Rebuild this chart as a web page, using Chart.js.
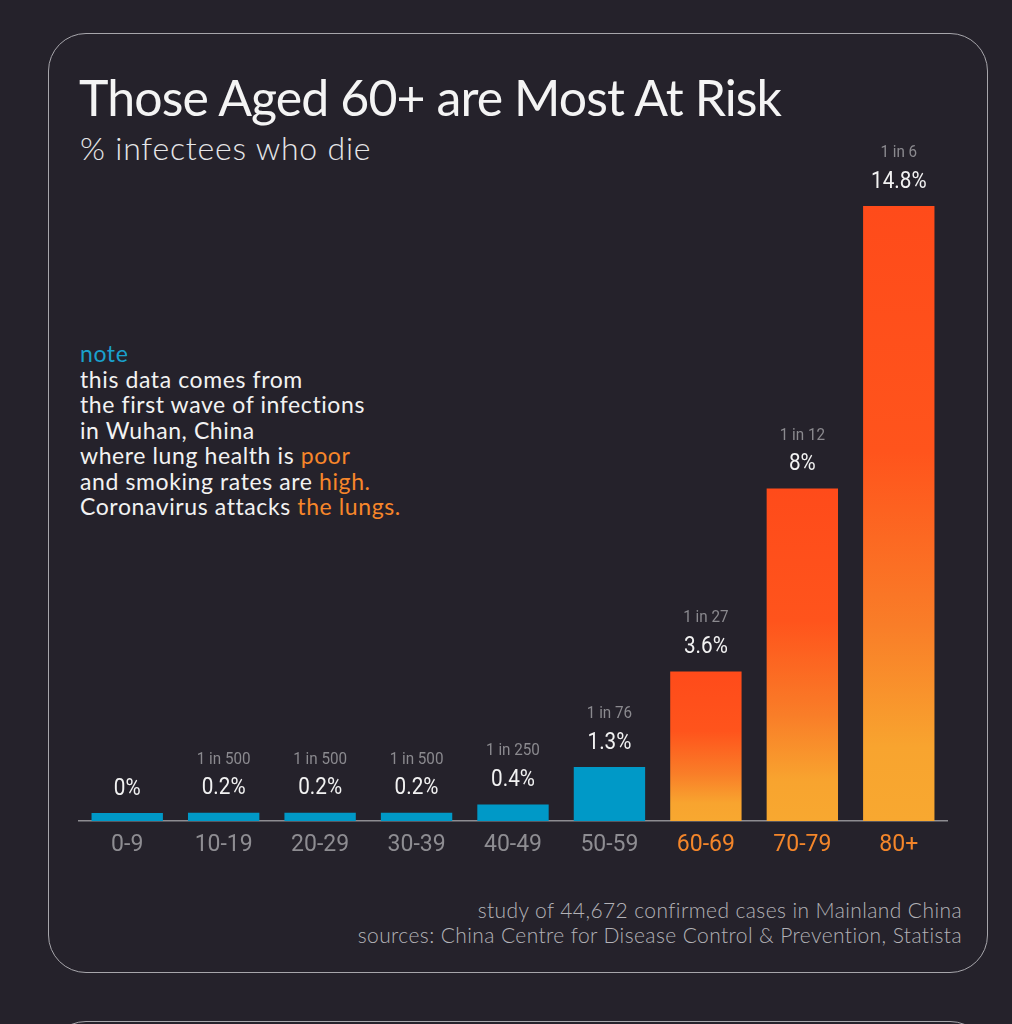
<!DOCTYPE html>
<html>
<head>
<meta charset="utf-8">
<script src="https://cdn.jsdelivr.net/npm/chart.js@4.4.0/dist/chart.umd.min.js"></script>
<style>
  html, body { margin:0; padding:0; }
  body { width:1012px; height:1024px; overflow:hidden; position:relative; background:#25222b; font-family: Lato, "Open Sans", sans-serif; }
  .box { position:absolute; left:48px; width:940px; border:1.5px solid #a7a6ab; border-radius:38px; box-sizing:border-box; }
  #title { position:absolute; left:79px; top:72px; font-size:50px; line-height:50px; color:#f4f4f4; font-weight:400; letter-spacing:-0.9px; white-space:nowrap; }
  #subtitle { position:absolute; left:80px; top:132px; font-size:32px; line-height:32px; color:#e6e6e8; font-weight:300; letter-spacing:0.8px; white-space:nowrap; }
  #note { position:absolute; left:80px; top:341px; font-size:23px; line-height:25.5px; color:#f2f2f2; letter-spacing:0.6px; white-space:nowrap; }
  #note .n { color:#1aa0cc; }
  #note .o { color:#f7862a; }
  #footer { position:absolute; right:50px; top:898px; font-size:21px; line-height:24.5px; color:#b3b2b7; font-weight:300; text-align:right; white-space:nowrap; letter-spacing:0.4px; }
  #wrap { position:absolute; left:0; top:0; width:1012px; height:1024px; }
</style>
</head>
<body>
<div class="box" style="top:33px;height:940px;"></div>
<div class="box" style="top:1021px;height:200px;"></div>
<div id="title">Those Aged 60+ are Most At Risk</div>
<div id="subtitle">% infectees who die</div>
<div id="note"><span class="n">note</span><br>this data comes from<br>the first wave of infections<br>in Wuhan, China<br>where lung health is <span class="o">poor</span><br>and smoking rates are <span class="o">high.</span><br>Coronavirus attacks <span class="o">the lungs.</span></div>
<div id="footer">study of 44,672 confirmed cases in Mainland China<br>sources: China Centre for Disease Control &amp; Prevention, Statista</div>
<div id="wrap"><canvas id="c"></canvas></div>
<script>
const categories = ['0-9','10-19','20-29','30-39','40-49','50-59','60-69','70-79','80+'];
const deathRates = [0, 0.2, 0.2, 0.2, 0.4, 1.3, 3.6, 8, 14.8];
const valueLabels = ['0%','0.2%','0.2%','0.2%','0.4%','1.3%','3.6%','8%','14.8%'];
const oddsLabels = ['','1 in 500','1 in 500','1 in 500','1 in 250','1 in 76','1 in 27','1 in 12','1 in 6'];
const highRisk = [false,false,false,false,false,false,true,true,true];

function barFill(context) {
  const i = context.dataIndex;
  if (!highRisk[i]) return '#0099c7';
  const chart = context.chart;
  const { ctx, chartArea, scales } = chart;
  if (!chartArea || !scales.y) return '#ff5a1e';
  const top = scales.y.getPixelForValue(deathRates[i]);
  const bottom = scales.y.getPixelForValue(0);
  const g = ctx.createLinearGradient(0, top, 0, bottom);
  g.addColorStop(0, '#ff4b1a');
  g.addColorStop(0.4, '#ff541c');
  g.addColorStop(0.68, '#f97d28');
  g.addColorStop(0.88, '#f8a42f');
  g.addColorStop(1, '#f8a830');
  return g;
}

function drawScaled(ctx, text, x, y, font, color, sx) {
  if (!text) return;
  ctx.save();
  ctx.translate(x, y);
  ctx.scale(sx, 1);
  ctx.font = font;
  ctx.fillStyle = color;
  ctx.textAlign = 'center';
  ctx.textBaseline = 'middle';
  ctx.fillText(text, 0, 0);
  ctx.restore();
}

const barLabels = {
  id: 'barLabels',
  afterDatasetsDraw(chart) {
    const { ctx } = chart;
    const meta = chart.getDatasetMeta(0);
    meta.data.forEach((bar, i) => {
      drawScaled(ctx, valueLabels[i], bar.x, bar.y - 24, '400 23px Roboto', '#f2f2f2', 0.9);
      drawScaled(ctx, oddsLabels[i], bar.x, bar.y - 53, '400 16px Roboto', '#8b8a8f', 0.95);
    });
  }
};

new Chart(document.getElementById('c'), {
  type: 'bar',
  data: {
    labels: categories,
    datasets: [{
      data: deathRates,
      backgroundColor: barFill,
      borderWidth: 0,
      minBarLength: 8,
      categoryPercentage: 1,
      barPercentage: 0.74
    }]
  },
  plugins: [barLabels],
  options: {
    responsive: true,
    maintainAspectRatio: false,
    animation: false,
    layout: { padding: { left: 79, right: 65, top: 156, bottom: 163 } },
    plugins: { legend: { display: false }, tooltip: { enabled: false }, title: { display: false } },
    scales: {
      x: {
        grid: { display: false, drawTicks: false },
        border: { display: true, color: '#8d8c91', width: 1.5 },
        ticks: {
          padding: 10,
          font: { family: 'Roboto', size: 23 },
          color: (c) => highRisk[c.index] ? '#f4862a' : '#8e8d92'
        },
        afterFit: (scale) => { scale.height = 40; }
      },
      y: {
        display: false,
        min: 0,
        max: 16
      }
    }
  }
});
</script>
</body>
</html>
